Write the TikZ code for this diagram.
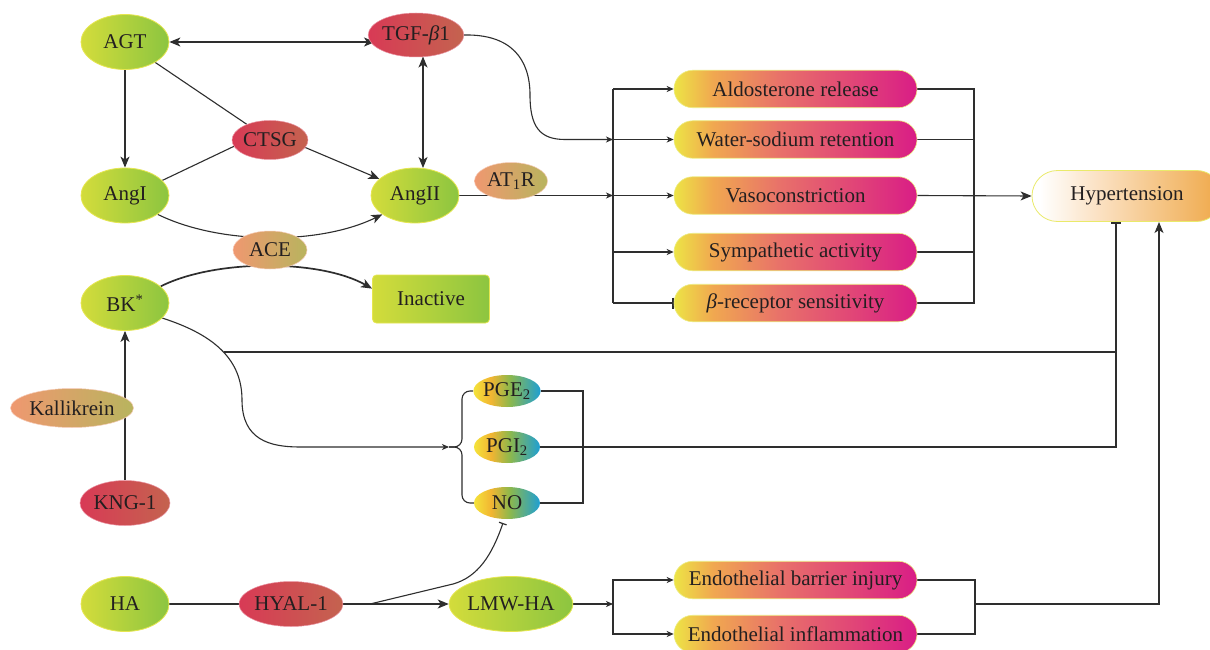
\documentclass[tikz,border=0pt]{standalone}
\usepackage{fontspec}
\setmainfont{Liberation Serif}
\usetikzlibrary{shapes.geometric,shapes.misc,arrows.meta,backgrounds}
\definecolor{gA}{HTML}{D3DC3B}
\definecolor{gB}{HTML}{8CC540}
\definecolor{gBorder}{HTML}{E6E650}
\definecolor{rA}{HTML}{D83A55}
\definecolor{rB}{HTML}{C4634F}
\definecolor{oA}{HTML}{EF9870}
\definecolor{oB}{HTML}{B8B45E}
\definecolor{lineC}{HTML}{2E2E2E}
\definecolor{txt}{HTML}{231F20}
\definecolor{pY}{HTML}{EDE445}
\definecolor{pO}{HTML}{F0A850}
\definecolor{pS}{HTML}{E8706A}
\definecolor{pP}{HTML}{E04278}
\definecolor{pM}{HTML}{D91D86}
\definecolor{qY}{HTML}{F4E33A}
\definecolor{qO}{HTML}{F2B532}
\definecolor{qG}{HTML}{8DB84C}
\definecolor{qT}{HTML}{1E9FD3}
\definecolor{hP}{HTML}{FBE2C4}
\definecolor{hO}{HTML}{EFA848}
\pgfdeclarehorizontalshading{pillshade}{100bp}{color(0bp)=(pY); color(25bp)=(pY); color(33bp)=(pO); color(47bp)=(pS); color(63bp)=(pP); color(75bp)=(pM); color(100bp)=(pM)}
\pgfdeclarehorizontalshading{pgshade}{100bp}{color(0bp)=(qY); color(25bp)=(qY); color(38bp)=(qO); color(52bp)=(qG); color(75bp)=(qT); color(100bp)=(qT)}
\pgfdeclarehorizontalshading{hypshade}{100bp}{color(0bp)=(white); color(27bp)=(white); color(42bp)=(hP); color(75bp)=(hO); color(100bp)=(hO)}
\tikzset{
  base/.style={font=\fontsize{21}{25}\selectfont, text=txt, inner sep=0pt},
  gell/.style={base, ellipse, minimum width=88pt, minimum height=55pt, left color=gA, right color=gB, draw=gBorder, line width=0.8pt},
  rell/.style={base, ellipse, left color=rA, right color=rB, draw=rA!55!white, line width=0.5pt},
  oell/.style={base, ellipse, left color=oA, right color=oB, draw=oA!50!white, line width=0.5pt},
  pell/.style={base, ellipse, minimum width=66pt, minimum height=32pt, shade, shading=pgshade},
  pill/.style={base, rounded rectangle, minimum width=243pt, minimum height=37.5pt, shade, shading=pillshade, draw=gBorder!70!white, line width=0.6pt},
  ln/.style={draw=lineC, line width=1.1pt},
  arr/.style={ln, -{Stealth[length=11pt,width=9pt,inset=3pt]}},
  dbl/.style={ln, {Stealth[length=11pt,width=9pt,inset=3pt]}-{Stealth[length=11pt,width=9pt,inset=3pt]}},
  arrs/.style={ln, -{Stealth[length=7pt,width=6pt,inset=2pt]}},
  inh/.style={ln, -{Bar[width=10pt,line width=2.4pt]}},
  inhs/.style={ln, -{Bar[width=8pt,line width=1.2pt]}},
  inhm/.style={ln, -{Bar[width=11pt,line width=1.8pt]}},
}
\begin{document}
\begin{tikzpicture}[x=1pt,y=-1pt]
\useasboundingbox (0,0) rectangle (1210,650);
% nodes
\node[gell] (agt) at (125,42) {AGT};
\node[rell, minimum width=89pt, minimum height=44pt] (tgf) at (416,35) {TGF-{\itshape β}1};
\node[rell, minimum width=74pt, minimum height=39pt] (ctsg) at (270,140) {CTSG};
\node[gell] (angi) at (125,195.5) {AngI};
\node[gell] (angii) at (415,195.5) {AngII};
\node[oell, minimum width=73pt, minimum height=37pt] (at1r) at (511,181) {AT\textsubscript{1}R};
\node[oell, minimum width=74pt, minimum height=38pt] (ace) at (270,250) {ACE};
\node[gell] (bk) at (125,303) {BK\textsuperscript{*}};
\node[base, rectangle, rounded corners=4pt, minimum width=117pt, minimum height=48pt, left color=gA, right color=gB, draw=gBorder, line width=0.8pt] (inact) at (431,299) {Inactive};
\node[oell, minimum width=123pt, minimum height=39pt] (kall) at (72,408) {Kallikrein};
\node[rell, minimum width=90pt, minimum height=45pt] (kng) at (125,503) {KNG-1};
\node[gell] (ha) at (125,604) {HA};
\node[rell, minimum width=90pt, minimum height=45pt] (hyal) at (291,604) {HYAL-1};
\node[gell, minimum width=108pt] (lmw) at (511,604) {LMW-HA};
\node[pell] (pge) at (507,391) {PGE\textsubscript{2}};
\node[pell] (pgi) at (507,447) {PGI\textsubscript{2}};
\node[pell] (no) at (507,503) {NO};
\node[pill] (ald) at (795.5,89) {Aldosterone release};
\node[pill] (wat) at (795.5,139.5) {Water-sodium retention};
\node[pill] (vas) at (795.5,195.5) {Vasoconstriction};
\node[pill] (sym) at (795.5,252) {Sympathetic activity};
\node[pill] (beta) at (795.5,303) {{\itshape β}-receptor sensitivity};
\node[base, rounded rectangle, minimum width=190pt, minimum height=51pt, shade, shading=hypshade, draw=gBorder!85!white, line width=0.8pt] (hyp) at (1127,196) {Hypertension};
\node[pill] (ebi) at (795.5,580) {Endothelial barrier injury};
\node[pill] (einf) at (795.5,634) {Endothelial inflammation};
% coordinates
\coordinate (tgfL) at (375,42);
\coordinate (tgfB) at (423,56.5);
\coordinate (angiiT) at (423,168);
\coordinate (bkj) at (223.5,352);
\coordinate (hbar) at (1116,222);
\coordinate (harr) at (1159,222);
\coordinate (rbp) at (583,0);
\coordinate (tipc) at (462,447);
\coordinate (tip) at (449,447);
\coordinate (hj) at (370,604);
\coordinate (nob) at (503,523);
\coordinate (lb2) at (613,604);
\coordinate (rb2) at (975,604);
\coordinate (lbx) at (613,0);
\coordinate (rbx) at (974,0);
\begin{scope}[on background layer]
\fill[white] (0,0) rectangle (1210,650);
\draw[dbl] (agt.east) -- (tgfL);
\draw[dbl] (tgfB) -- (angiiT);
\draw[arr] (agt.south) -- (angi.north);
\draw[ln] (agt) -- (ctsg);
\draw[ln] (angi.22) -- (ctsg.190);
\draw[arr] (ctsg.-12) -- (angii.155);
\draw[arr] (angi.-30) .. controls (220,245) and (320,245) .. (angii.210);
\draw[arr, line width=1.7pt] (bk.25) .. controls (215,259) and (320,259) .. (inact.170);
\draw[arr] (kng.north) -- (bk.south);
\draw[arrs] (bk.-22) .. controls (215,335) and (242,360) .. (242,400) .. controls (242,440) and (270,447) .. (300,447) -- (tip);
\draw[ln] (bkj) -- (bkj -| hbar);
\draw[inh] (pgi.east) -| (hbar);
\draw[ln] (pge.east) -| (rbp |- no.east) -- (no.east);
\draw[ln, rounded corners=8pt] (pge.west) -| (tipc) -- (tip);
\draw[ln, rounded corners=8pt] (no.west) -| (tipc) -- (tip);
\draw[ln] (ha) -- (hyal);
\draw[arr] (hyal) -- (lmw);
\draw[inhs] (hj) -- (453,584) .. controls (478,577) and (492,555) .. (nob);
\draw[arrs] (lmw.east) -- (lb2);
\draw[arrs] (lb2) |- (ebi.west);
\draw[arrs] (lb2) |- (einf.west);
\draw[ln] (ebi.east) -| (rb2);
\draw[ln] (einf.east) -| (rb2);
\draw[arr] (rb2) -| (harr);
\draw[arrs] (tgf.east) .. controls (512,34) and (530,60) .. (530,95) .. controls (530,127) and (540,139.5) .. (565,139.5) -- (lbx |- wat.west);
\draw[arrs] (angii.east) -- (lbx |- vas.west);
\draw[ln] (lbx |- ald.west) -- (lbx |- beta.west);
\draw[arrs] (lbx |- ald.west) -- (ald.west);
\draw[arrs] (lbx |- wat.west) -- (wat.west);
\draw[arrs] (lbx |- vas.west) -- (vas.west);
\draw[arrs] (lbx |- sym.west) -- (sym.west);
\draw[inhm] (lbx |- beta.west) -- (beta.west);
\draw[ln] (ald.east) -| (rbx |- beta.east) -- (beta.east);
\draw[ln] (wat.east) -- (wat.east -| rbx);
\draw[ln] (sym.east) -- (sym.east -| rbx);
\draw[arr] (vas.east) -- (hyp.west);
\end{scope}
\end{tikzpicture}
\end{document}
